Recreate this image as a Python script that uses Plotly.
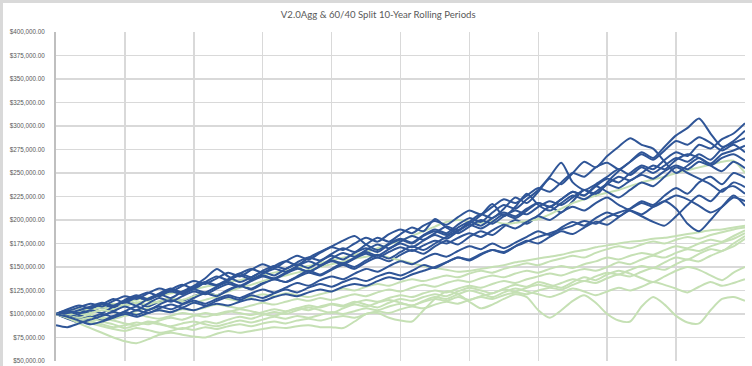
import plotly.graph_objects as go

# Period index across the 10-year window (category axis, labels hidden)
periods = list(range(61))

# V2.0Agg rolling periods (portfolio value, thousands of $)
agg_1 = [100,102,98,103,107,104,109,112,108,113,117, 114,119,123,120,126,130,127,133,137,134,
         139,144,141,147,152,148,155,160,156,163, 168,164,172,178,174,182,188,184,193,200,
         196,205,214,208,220,232,226,240,252,262, 272,266,278,290,298,308,292,278,282,287]
agg_2 = [100,97,101,106,110,107,113,118,115,121,126, 122,128,133,130,136,141,137,143,148,145,
         151,156,152,159,165,161,168,174,170,177, 183,179,186,193,189,198,206,202,212,224,
         218,230,244,238,250,262,256,268,278,287, 280,276,262,250,258,266,260,270,274,279]
agg_3 = [100,104,101,106,110,116,112,118,123,119,126, 131,127,134,140,136,143,148,144,151,156,
         152,160,166,172,178,183,174,168,175,180, 176,184,190,186,195,202,198,208,216,212,
         222,232,246,261,240,232,238,246,254,248, 256,250,258,266,262,270,264,276,284,295]
agg_4 = [100,96,99,104,101,108,113,109,116,121,117, 124,130,138,148,140,134,139,145,141,148,
         153,149,156,162,158,165,170,166,174,179, 175,183,188,184,192,198,194,202,208,204,
         212,218,214,222,230,226,236,244,240,250, 258,254,264,272,268,280,276,286,292,303]
agg_5 = [100,103,99,95,98,102,99,104,101,106,110, 107,112,109,114,118,115,120,117,122,126,
         123,128,132,129,134,138,135,140,144,141, 146,152,149,155,160,157,163,168,165,172,
         178,175,182,188,185,192,198,195,203,210, 206,214,220,212,196,188,200,214,226,215]
agg_6 = [100,105,109,106,111,108,114,118,115,120,124, 121,126,123,129,134,130,136,141,138,144,
         149,145,151,156,153,159,164,160,166,171, 167,173,178,175,181,186,182,189,195,191,
         198,204,200,208,214,210,218,224,216,210, 204,198,194,204,216,226,220,232,236,228]
agg_7 = [100,95,91,96,100,97,103,108,104,110,115, 111,117,122,119,125,130,126,132,137,134,
         140,146,142,148,154,150,157,163,159,166, 172,168,175,182,189,196,205,217,204,214,
         228,216,210,218,226,222,230,238,234,242, 248,244,252,258,254,262,258,266,270,263]
agg_8 = [100,101,104,108,112,109,115,120,116,122,127, 123,129,134,131,137,143,139,146,151,148,
         155,160,157,164,170,166,174,181,177,185, 192,188,201,192,186,193,200,196,204,210,
         206,214,220,216,224,232,228,238,246,242, 250,258,254,264,270,266,258,252,262,255]
agg_9 = [100,98,94,97,93,98,102,99,104,108,105, 110,114,111,116,120,117,122,126,123,128,
         133,130,136,140,137,143,148,145,151,156, 153,159,164,161,167,172,169,175,170,176,
         182,188,184,192,198,194,202,208,204,212, 220,216,226,234,228,240,246,238,250,245]
agg_10 = [100,103,107,111,108,114,119,116,122,127,124, 130,135,132,138,144,140,147,153,149,156,
          162,158,165,171,168,175,181,177,185,190, 186,194,199,195,203,210,206,214,222,218,
          226,234,230,240,250,246,256,261,254,262, 270,264,274,284,280,288,282,274,280,272]
agg_11 = [100,97,93,89,92,96,100,97,101,104,102, 106,104,108,111,109,113,116,114,118,121,
          119,123,126,124,129,132,130,135,139,137, 142,146,150,155,160,158,164,168,166,172,
          177,182,186,190,194,199,196,203,208,212, 218,214,220,226,222,215,208,214,224,220]
agg_12 = [88,86,90,94,98,103,108,104,111,117,113, 119,124,121,127,132,129,135,140,137,143,
          148,145,151,157,154,160,166,162,169,175, 171,178,184,180,188,195,191,198,206,202,
          210,218,214,222,230,226,236,230,224,232, 240,236,246,256,250,244,238,230,240,235]

# 60/40 Split rolling periods (portfolio value, thousands of $)
split_1 = [100,101,103,106,108,110,112,115,117,119,122, 124,126,129,131,134,136,139,141,144,146,
           149,151,154,157,160,163,166,170,174,178, 183,188,193,198,200,198,197,199,196,197,
           199,201,206,212,218,222,226,229,232,236, 240,243,246,250,253,256,259,262,263,250]
split_2 = [100,99,102,104,107,105,109,112,110,114,117, 115,119,122,120,124,128,131,135,138,141,
           144,147,150,153,156,159,161,163,160,157, 154,151,149,147,145,146,148,150,152,155,
           157,159,161,163,166,168,171,173,175,177, 178,180,181,183,185,187,189,190,192,194]
split_3 = [100,103,106,104,108,111,109,112,114,112,115, 113,112,115,118,116,114,118,121,119,122,
           120,118,121,124,127,125,129,132,130,134, 137,135,138,141,139,143,146,144,148,151,
           154,152,156,159,162,160,165,169,172,170, 174,177,175,179,182,180,184,187,190,192]
split_4 = [100,102,99,101,104,102,100,103,106,104,102, 105,104,107,110,108,106,109,112,110,113,
           116,114,117,115,118,121,119,123,126,124, 128,131,129,133,136,134,138,141,139,143,
           146,144,148,151,149,153,156,160,158,162, 165,163,168,172,170,175,179,177,183,189]
split_5 = [100,98,96,99,97,95,98,100,97,95,98, 101,99,97,100,103,101,99,102,105,103,
           106,109,107,110,108,112,115,113,117,120, 118,122,125,123,127,130,128,132,135,133,
           137,140,143,141,145,148,146,150,155,153, 158,162,160,165,169,167,172,176,180,186]
split_6 = [100,97,94,92,95,93,90,88,91,89,87, 90,92,89,87,90,93,91,94,97,95,
           98,96,99,102,100,103,106,104,108,111, 109,113,116,114,118,115,119,122,126,124,
           128,131,129,133,137,135,140,144,142,147, 151,149,155,160,158,164,169,167,175,183]
split_7 = [100,96,93,90,87,84,82,85,83,80,82, 85,83,86,84,87,89,87,90,92,90,
           93,95,93,96,98,96,100,103,101,105, 108,106,110,113,111,115,118,116,120,123,
           121,125,128,126,131,135,133,138,142,140, 145,149,147,153,158,156,162,167,172,180]
split_8 = [100,98,95,92,89,86,88,91,89,93,96, 94,98,101,99,102,105,103,100,98,102,
           106,104,108,111,109,113,110,107,112,116, 114,118,121,119,124,128,125,122,127,131,
           129,134,131,128,134,139,136,142,146,143, 138,134,140,146,150,147,141,136,144,150]
split_9 = [100,97,94,96,92,89,85,88,92,90,86, 84,88,92,90,94,97,95,99,102,100,
           104,107,104,101,106,110,108,112,115,112, 109,114,118,116,121,125,122,118,123,127,
           124,121,118,122,127,124,120,124,128,125, 129,134,131,127,123,129,134,130,133,137]
split_10 = [100,96,90,85,80,75,71,69,73,78,80, 78,76,75,79,82,80,82,84,86,85,
            87,88,86,86,85,92,100,101,96,93, 92,104,116,124,121,113,106,110,116,121,
            118,104,96,104,114,120,112,100,93,92, 108,118,110,98,91,90,104,116,118,114]

agg_series = [agg_1, agg_2, agg_3, agg_4, agg_5, agg_6, agg_7, agg_8, agg_9, agg_10, agg_11, agg_12]
split_series = [split_1, split_2, split_3, split_4, split_5, split_6, split_7, split_8, split_9, split_10]

y_ticks = [50000, 75000, 100000, 125000, 150000, 175000, 200000, 225000,
           250000, 275000, 300000, 325000, 350000, 375000, 400000]
x_grid = [0, 6, 12, 18, 24, 30, 36, 42, 48, 54, 60]

BLUE = "#2F5597"
GREEN = "#C5E0B4"

fig = go.Figure()

order = []
for k in range(max(len(agg_series), len(split_series))):
    if k < len(agg_series):
        order.append((agg_series[k], BLUE, f"V2.0Agg {k+1}"))
    if k < len(split_series):
        order.append((split_series[k], GREEN, f"60/40 Split {k+1}"))

for vals, color, name in order:
    fig.add_trace(go.Scatter(
        x=periods,
        y=[v * 1000 for v in vals],
        mode="lines",
        name=name,
        line=dict(color=color, width=2, shape="spline", smoothing=0.7),
        showlegend=False,
        hoverinfo="skip",
    ))

L, R, T, B = 56, 7, 32, 5
W, H = 752, 366
pw, ph = W - L - R, H - T - B

fig.update_layout(
    width=W, height=H,
    margin=dict(l=L, r=R, t=T, b=B, autoexpand=False),
    paper_bgcolor="white",
    plot_bgcolor="white",
    title=dict(
        text="V2.0Agg & 60/40 Split 10-Year Rolling Periods",
        xref="container", x=0.503, xanchor="center",
        yref="container", y=1 - 15 / H, yanchor="middle",
        font=dict(family="Lato", size=9.6, color="#595959"),
    ),
    font=dict(family="Liberation Sans", color="#595959"),
)

fig.update_xaxes(
    range=[0, 60],
    tickvals=x_grid,
    showticklabels=False,
    showgrid=True, gridcolor="#D9D9D9", gridwidth=1.5,
    zeroline=False,
    showline=False,
    fixedrange=True,
)

fig.update_yaxes(
    range=[50000, 400000],
    tickvals=y_ticks,
    tickformat="$,.2f",
    tickfont=dict(size=6.3, color="#595959", family="Liberation Sans"),
    showgrid=True, gridcolor="#D9D9D9", gridwidth=1.5,
    zeroline=False,
    showline=True, linecolor="#BFBFBF", linewidth=2,
    ticks="", ticklabelstandoff=8,
    automargin=False,
    fixedrange=True,
)

# light chart-area frame along the top and left edges of the picture
fig.add_shape(type="line", xref="paper", yref="paper",
              x0=-L / pw, x1=1 + R / pw, y0=1 + (T - 1.5) / ph, y1=1 + (T - 1.5) / ph,
              line=dict(color="#D9D9D9", width=3))
fig.add_shape(type="line", xref="paper", yref="paper",
              x0=-(L - 1.5) / pw, x1=-(L - 1.5) / pw, y0=-B / ph, y1=1 + T / ph,
              line=dict(color="#D9D9D9", width=3))

fig.write_html(
    "out.html",
    config={"displayModeBar": False, "staticPlot": True},
    post_script="document.body.style.margin='0';document.body.style.padding='0';document.body.style.overflow='hidden';",
)
